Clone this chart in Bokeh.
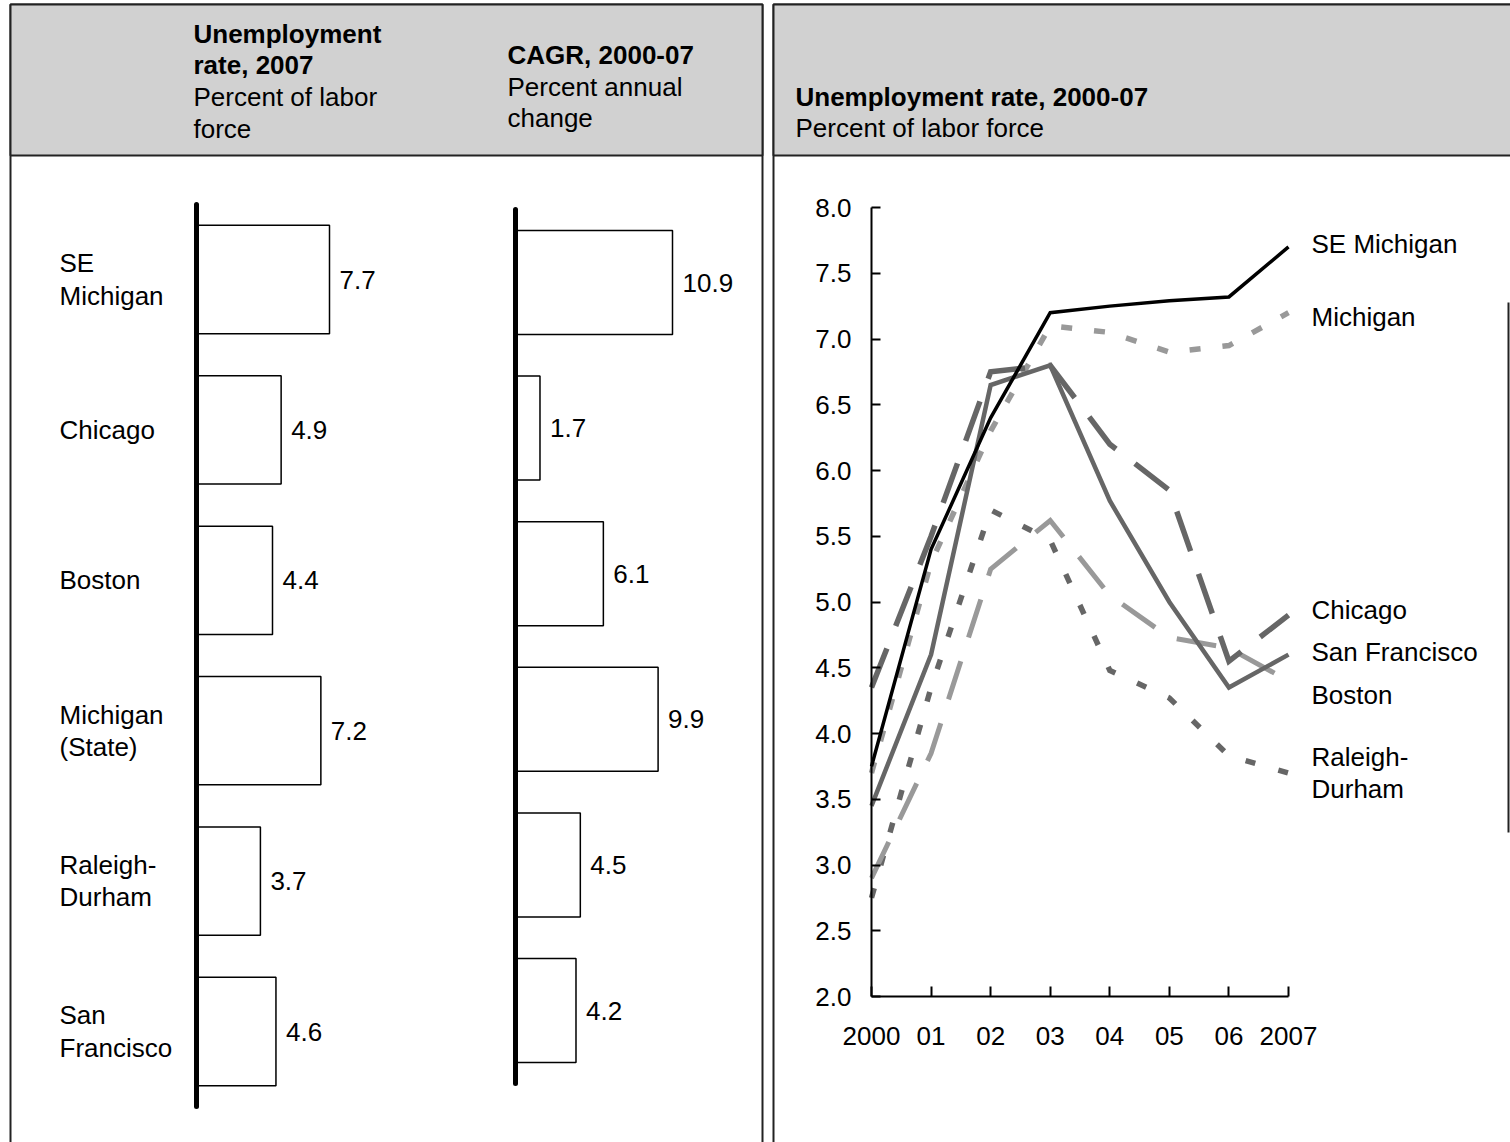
from bokeh.plotting import figure
from bokeh.models import Range1d, LinearAxis, FixedTicker, ColumnDataSource, NumeralTickFormatter
from bokeh.core.properties import value
from bokeh.embed import file_html
from bokeh.resources import INLINE

# ---------------- data ----------------
bar_categories = ["SE\nMichigan", "Chicago", "Boston", "Michigan\n(State)", "Raleigh-\nDurham", "San\nFrancisco"]
unemployment_2007 = [7.7, 4.9, 4.4, 7.2, 3.7, 4.6]
cagr_2000_07 = [10.9, 1.7, 6.1, 9.9, 4.5, 4.2]

years = [2000, 2001, 2002, 2003, 2004, 2005, 2006, 2007]
year_labels = ["2000", "01", "02", "03", "04", "05", "06", "2007"]
y_ticks = [2.0, 2.5, 3.0, 3.5, 4.0, 4.5, 5.0, 5.5, 6.0, 6.5, 7.0, 7.5, 8.0]

series_names = ["Raleigh-\nDurham", "Boston", "Michigan", "Chicago", "San Francisco", "SE Michigan"]
raleigh_durham = [2.75, 4.35, 5.7, 5.47, 4.48, 4.27, 3.83, 3.7]
boston = [2.9, 3.85, 5.25, 5.62, 5.05, 4.73, 4.65, 4.4]
michigan = [3.7, 5.3, 6.3, 7.1, 7.05, 6.9, 6.95, 7.2]
chicago = [4.35, 5.5, 6.75, 6.8, 6.2, 5.85, 4.55, 4.9]
san_francisco = [3.45, 4.6, 6.65, 6.8, 5.77, 5.0, 4.35, 4.6]
se_michigan = [3.75, 5.4, 6.4, 7.2, 7.25, 7.29, 7.32, 7.7]
series_values = [raleigh_durham, boston, michigan, chicago, san_francisco, se_michigan]
label_y = [3.70, 4.29, 7.17, 4.94, 4.62, 7.72]

# styles
series_colors = ["#666666", "#999999", "#999999", "#666666", "#666666", "#000000"]
series_widths = [5.5, 5, 5.5, 5.5, 4.5, 3.5]
series_dashes = ["10 24", "40 25", "11 22", "42 24", "solid", "solid"]

FONT_NAME = "Liberation Sans"
FONT = value(FONT_NAME)
FS = "26px"
LH = 1.07

# ---------------- layout helpers ----------------
W, H = 1510, 1142
OX, OY = 0, 0


def hmap(p0, v0, p1, v1):
    s = (v1 - v0) / (p1 - p0)
    return Range1d(start=v0 + (OX - p0) * s, end=v0 + (OX + W - p0) * s)


def vmap(p0, v0, p1, v1):
    s = (v1 - v0) / (p1 - p0)
    return Range1d(start=v0 + (OY + H - p0) * s, end=v0 + (OY - p0) * s)


p = figure(width=W, height=H, output_backend="svg", toolbar_location=None,
           x_range=hmap(871, years[0], 1288, years[-1]),
           y_range=vmap(996, y_ticks[0], 207, y_ticks[-1]),
           x_axis_type=None, y_axis_type=None, min_border=0)
p.outline_line_color = None
p.background_fill_color = "white"
p.border_fill_color = "white"

p.extra_x_ranges = {"px": hmap(0, 0, 100, 100),
                    "u": hmap(196, 0, 329, 7.7),
                    "c": hmap(515, 0, 672, 10.9)}
p.extra_y_ranges = {"px": vmap(0, 0, 100, 100),
                    "u": vmap(279, 0, 1031, 5),
                    "c": vmap(282, 0, 1010, 5)}

# ---------------- panels ----------------
BORDER = "#222222"
p.quad(left=[10, 773], right=[762, 1560], top=[4, 4], bottom=[1300, 1300],
       fill_color="white", line_color=BORDER, line_width=2,
       x_range_name="px", y_range_name="px")
p.quad(left=[10, 773], right=[762, 1560], top=[4, 4], bottom=[155, 155],
       fill_color="#d1d1d1", line_color=BORDER, line_width=2,
       x_range_name="px", y_range_name="px")
p.segment(x0=[1508], y0=[302], x1=[1508], y1=[832], line_color=BORDER, line_width=2,
          x_range_name="px", y_range_name="px")

# header texts
hdr_bold = dict(x=[193, 193, 507, 795], y=[33, 64.5, 54, 96],
                t=["Unemployment", "rate, 2007", "CAGR, 2000-07", "Unemployment rate, 2000-07"])
hdr_norm = dict(x=[193, 193, 507, 507, 795], y=[96, 128, 86, 117.5, 127],
                t=["Percent of labor", "force", "Percent annual", "change", "Percent of labor force"])
p.text(x=hdr_bold["x"], y=hdr_bold["y"], text=hdr_bold["t"], text_font=FONT, text_font_size=FS,
       text_font_style="bold", text_baseline="middle", text_align="left", text_color="black",
       x_range_name="px", y_range_name="px")
p.text(x=hdr_norm["x"], y=hdr_norm["y"], text=hdr_norm["t"], text_font=FONT, text_font_size=FS,
       text_baseline="middle", text_align="left", text_color="black",
       x_range_name="px", y_range_name="px")

# ---------------- bar charts ----------------
idx = list(range(len(bar_categories)))
src_u = ColumnDataSource(dict(y=idx, v=unemployment_2007, lab=[f"{v:.1f}" for v in unemployment_2007],
                              cat=bar_categories, lx=[59] * len(idx)))
src_c = ColumnDataSource(dict(y=idx, v=cagr_2000_07, lab=[f"{v:.1f}" for v in cagr_2000_07]))

p.hbar(y="y", left=0, right="v", height=0.72, source=src_u, fill_color="white",
       line_color="black", line_width=1.5, x_range_name="u", y_range_name="u")
p.hbar(y="y", left=0, right="v", height=0.714, source=src_c, fill_color="white",
       line_color="black", line_width=1.5, x_range_name="c", y_range_name="c")

p.text(x="v", y="y", text="lab", source=src_u, x_offset=10, text_font=FONT, text_font_size=FS,
       text_baseline="middle", text_align="left", text_color="black",
       x_range_name="u", y_range_name="u")
p.text(x="v", y="y", text="lab", source=src_c, x_offset=10, text_font=FONT, text_font_size=FS,
       text_baseline="middle", text_align="left", text_color="black",
       x_range_name="c", y_range_name="c")
p.text(x="lx", y="y", text="cat", source=src_u, text_font=FONT, text_font_size=FS,
       text_baseline="middle", text_align="left", text_color="black", text_line_height=LH,
       x_range_name="px", y_range_name="u")

for rn in ("u", "c"):
    bax = LinearAxis(x_range_name=rn, y_range_name=rn, fixed_location=0,
                     bounds=(-0.5, len(idx) - 0.5), ticker=FixedTicker(ticks=[], minor_ticks=[]),
                     axis_line_width=5, axis_line_cap="round", axis_line_color="black",
                     major_tick_line_color=None, minor_tick_line_color=None,
                     major_label_text_font_size="0px")
    p.add_layout(bax, "left")

# ---------------- line chart ----------------
for vals, col, w, d in zip(series_values, series_colors, series_widths, series_dashes):
    p.line(x=years, y=vals, line_color=col, line_width=w, line_dash=d, line_join="miter")

p.text(x=[years[-1]] * len(series_names), y=label_y, text=series_names, x_offset=23,
       text_font=FONT, text_font_size=FS, text_baseline="middle", text_align="left",
       text_color="black", text_line_height=LH)

yax = LinearAxis(fixed_location=years[0], bounds=(y_ticks[0], y_ticks[-1]),
                 ticker=FixedTicker(ticks=y_ticks, minor_ticks=[]),
                 formatter=NumeralTickFormatter(format="0.0"),
                 major_tick_in=9, major_tick_out=0, minor_tick_in=0, minor_tick_out=0,
                 major_label_standoff=20, axis_line_width=2, axis_line_color="black",
                 major_tick_line_width=2, major_tick_line_color="black",
                 major_label_text_font=FONT_NAME, major_label_text_font_size=FS,
                 major_label_text_color="black")
p.add_layout(yax, "left")

xax = LinearAxis(fixed_location=y_ticks[0], bounds=(years[0], years[-1]),
                 ticker=FixedTicker(ticks=years, minor_ticks=[]),
                 major_label_overrides=dict(zip(years, year_labels)),
                 major_tick_in=10, major_tick_out=0, minor_tick_in=0, minor_tick_out=0,
                 major_label_standoff=30, axis_line_width=2, axis_line_color="black",
                 major_tick_line_width=2, major_tick_line_color="black",
                 major_label_text_font=FONT_NAME, major_label_text_font_size=FS,
                 major_label_text_color="black")
p.add_layout(xax, "below")

open("out.html", "w").write(file_html(p, INLINE))
